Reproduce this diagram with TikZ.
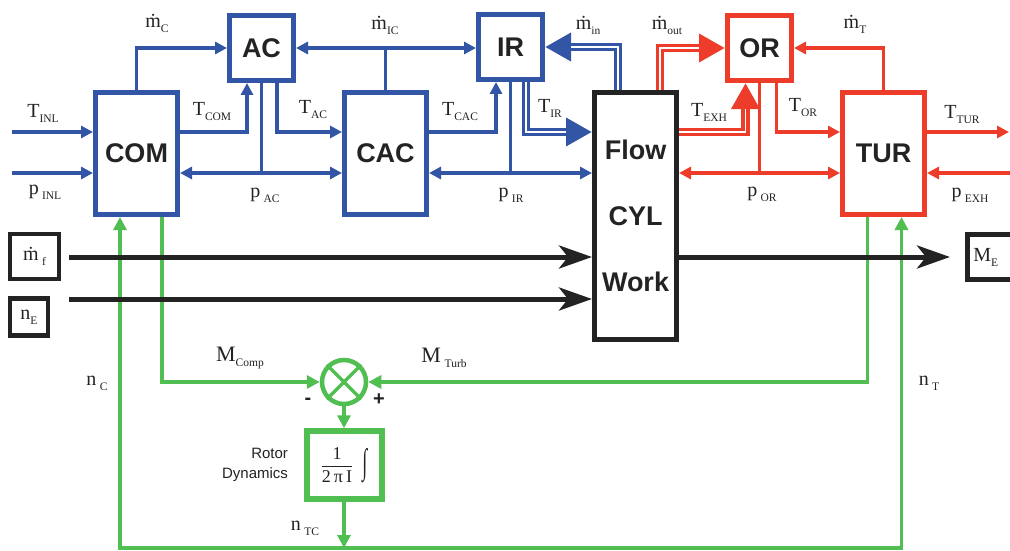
\documentclass[tikz,border=0pt]{standalone}
\usepackage{amsmath}
\usepackage{fontspec}
\setmainfont{Liberation Serif}
\setsansfont{Liberation Sans}
\usetikzlibrary{arrows.meta,positioning}

\definecolor{tcblue}{RGB}{50,85,165}
\definecolor{tcred}{RGB}{238,60,42}
\definecolor{tcgreen}{RGB}{80,190,80}
\definecolor{tcblack}{RGB}{35,35,35}

\newcommand\lsub[1]{\raisebox{-5pt}{\fontsize{11.5}{12}\selectfont #1}}

\begin{document}
\begin{tikzpicture}[
  x=1pt, y=-1pt,
  every node/.style={text=tcblack},
  blk/.style={draw, rectangle, line width=5pt, fill=white,
              minimum width=82pt, minimum height=122pt,
              font=\sffamily\bfseries\fontsize{27}{30}\selectfont},
  sblk/.style={blk, minimum width=64pt, minimum height=65pt},
  inbox/.style={draw=tcblack, line width=4.5pt, inner sep=3pt,
                font=\fontsize{20}{22}\selectfont},
  lbl/.style={font=\fontsize{20}{22}\selectfont, inner sep=0pt},
  sgn/.style={font=\sffamily\bfseries\fontsize{20}{20}\selectfont, inner sep=0pt},
  ln/.style={line width=3.2pt},
  arr/.style={ln, -{Triangle[length=12pt,width=12pt]}},
  darr/.style={ln, {Triangle[length=12pt,width=12pt]}-{Triangle[length=12pt,width=12pt]}},
  fat/.style={line width=8.5pt, -{Triangle[length=26pt,width=27pt]},
              postaction={draw=white, line width=1.5pt, shorten >=26pt, -}},
  karr/.style={draw=tcblack, line width=5pt, -{Stealth[length=33pt,width=23pt,inset=9pt]}},
  gln/.style={draw=tcgreen, line width=3.5pt},
  garr/.style={gln, -{Triangle[length=13pt,width=13pt]}}
]
\useasboundingbox (0,0) rectangle (1010,551);

% free ends
\coordinate (tin)  at (12,132);
\coordinate (pin)  at (12,173);
\coordinate (tout) at (1009,132);
\coordinate (pout) at (1010,173);
\coordinate (mf0)  at (69,257);
\coordinate (ne0)  at (69,299);
\coordinate (bot)  at (344,548);

% blocks
\node[blk, draw=tcblue] (COM) at (136.5,153.5) {COM};
\node[blk, draw=tcblue, right=162pt of COM] (CAC) {CAC};
\node[sblk, draw=tcblue, above right=7pt and 47pt of COM.north east] (AC) {AC};
\node[sblk, draw=tcblue, above right=8pt and 47pt of CAC.north east] (IR) {IR};
\node[blk, draw=tcblack, minimum height=247pt, align=center,
      font=\sffamily\bfseries\fontsize{27}{66}\selectfont,
      right=163pt of CAC.north east, anchor=north west] (CYL) {Flow\\CYL\\Work};
\node[sblk, draw=tcred, above right=7pt and 46pt of CYL.north east] (OR) {OR};
\node[blk, draw=tcred, right=161pt of CYL.north east, anchor=north west] (TUR) {TUR};

\node[inbox, minimum width=49pt, minimum height=45pt] (mf) at (34.5,256.5) {ṁ\,\lsub{f}};
\node[inbox, minimum width=38pt, minimum height=37pt,
      below=15pt of mf.south west, anchor=north west] (nE) {n\lsub{E}};
\node[inbox, minimum height=45pt, text width=44pt, align=left, inner sep=6pt,
      anchor=west] (ME) at (965,257) {M\lsub{E}};

\node[draw=tcgreen, circle, line width=4.5pt, minimum size=44pt, inner sep=0pt] (SUM) at (344,382) {};
\node[draw=tcgreen, line width=6pt, minimum width=75pt, minimum height=68pt,
      below=22pt of SUM, font=\fontsize{18}{20}\selectfont] (RD)
      {$\dfrac{\text{1}}{\text{2\,π\,I}}$\hspace{9pt}\raisebox{-2pt}{\scalebox{1}[1.95]{∫}}};
\node[font=\sffamily\fontsize{15}{20}\selectfont, align=right, left=12pt of RD] (RDlbl) {Rotor\\Dynamics};
\node[sgn] (minus) at (308,401) {-};
\node[sgn] (plus)  at (379,400) {+};

% shaft loop
\draw[gln] (SUM.north west) -- (SUM.south east);
\draw[gln] (SUM.north east) -- (SUM.south west);
\draw[garr] (bot) -| ([xshift=-16.5pt]COM.south);
\draw[garr] (bot) -| ([xshift=18pt]TUR.south);
\draw[garr] ([xshift=25.5pt]COM.south) |- (SUM.west);
\draw[garr] ([xshift=-16pt]TUR.south) |- (SUM.east);
\draw[garr] (SUM) -- (RD);
\draw[garr] (RD) -- (bot);

% engine inputs and output
\draw[karr] (mf0) -- (mf0 -| CYL.west);
\draw[karr] (ne0) -- (ne0 -| CYL.west);
\draw[karr, shorten >=15pt] (CYL.east |- ME.west) -- (ME.west);

% intake side
\draw[arr, tcblue] (tin) -- (tin -| COM.west);
\draw[arr, tcblue] (pin) -- (pin -| COM.west);
\draw[arr, tcblue] (COM.north) |- (AC.west);
\draw[arr, tcblue] (COM.east |- tin) -| ([xshift=-14.5pt]AC.south);
\draw[darr, tcblue] (COM.east |- pin) -- (CAC.west |- pin);
\draw[ln, tcblue] (AC.south) -- (AC.south |- pin);
\draw[arr, tcblue] ([xshift=15.5pt]AC.south) |- (CAC.west |- tin);
\draw[darr, tcblue] (AC.east) -- (AC.east -| IR.west);
\draw[ln, tcblue] (CAC.north) -- (CAC.north |- AC.east);
\draw[arr, tcblue] (CAC.east |- tin) -| ([xshift=-14.5pt]IR.south);
\draw[darr, tcblue] (CAC.east |- pin) -- (CYL.west |- pin);
\draw[ln, tcblue] (IR.south) -- (IR.south |- pin);
\draw[fat, tcblue] ([xshift=15.5pt]IR.south) |- (CYL.west |- tin);
\draw[fat, tcblue] ([xshift=-17.5pt]CYL.north) |- (IR.east);

% exhaust side
\draw[fat, tcred] ([xshift=24.5pt]CYL.north) |- (OR.west);
\draw[fat, tcred] (CYL.east |- tin) -| ([xshift=-14pt]OR.south);
\draw[darr, tcred] (CYL.east |- pin) -- (TUR.west |- pin);
\draw[ln, tcred] (OR.south) -- (OR.south |- pin);
\draw[arr, tcred] ([xshift=17pt]OR.south) |- (TUR.west |- tin);
\draw[arr, tcred] (TUR.north) |- (OR.east);
\draw[arr, tcred] (TUR.east |- tin) -- (tout);
\draw[arr, tcred] (pout) -- (pout -| TUR.east);

% labels
\node[lbl] (lTINL)  at (43,113)  {T\lsub{INL}};
\node[lbl] (lpINL)  at (45,192)  {p\,\lsub{INL}};
\node[lbl] (lmC)    at (157,23)  {ṁ\lsub{C}};
\node[lbl] (lTCOM)  at (212,112) {T\lsub{COM}};
\node[lbl] (lTAC)   at (313,110) {T\lsub{AC}};
\node[lbl] (lpAC)   at (265,195) {p\,\lsub{AC}};
\node[lbl] (lmIC)   at (385,25)  {ṁ\lsub{IC}};
\node[lbl] (lTCAC)  at (460,112) {T\lsub{CAC}};
\node[lbl] (lpIR)   at (511,195) {p\,\lsub{IR}};
\node[lbl] (lTIR)   at (550,108) {T\lsub{IR}};
\node[lbl] (lmin)   at (588,25)  {ṁ\lsub{in}};
\node[lbl] (lmout)  at (667,25)  {ṁ\lsub{out}};
\node[lbl] (lTEXH)  at (709,112) {T\lsub{EXH}};
\node[lbl] (lpOR)   at (762,194) {p\,\lsub{OR}};
\node[lbl] (lTOR)   at (803,108) {T\lsub{OR}};
\node[lbl] (lmT)    at (855,24)  {ṁ\lsub{T}};
\node[lbl] (lTTUR)  at (962,115) {T\lsub{TUR}};
\node[lbl] (lpEXH)  at (970,195) {p\,\lsub{EXH}};
\node[lbl, font=\fontsize{22}{24}\selectfont] (lMComp) at (240,358) {M\lsub{Comp}};
\node[lbl, font=\fontsize{22}{24}\selectfont] (lMTurb) at (444,358) {M\,\lsub{Turb}};
\node[lbl] (lnC)    at (97,383)  {n\,\lsub{C}};
\node[lbl] (lnT)    at (929,383) {n\,\lsub{T}};
\node[lbl] (lnTC)   at (305,528) {n\,\lsub{TC}};
\end{tikzpicture}
\end{document}
